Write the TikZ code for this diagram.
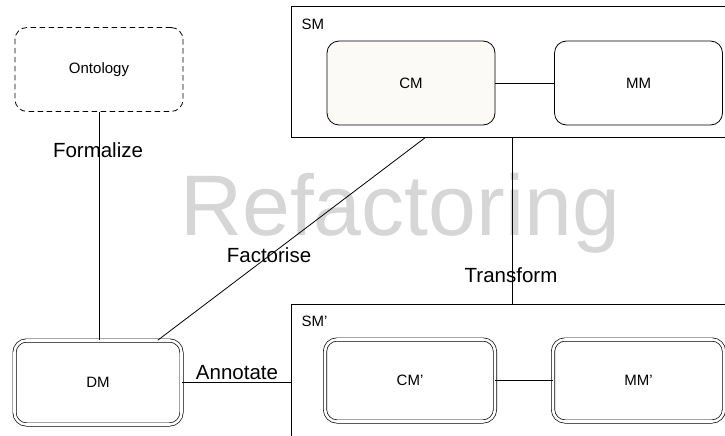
\documentclass[tikz,border=0pt]{standalone}
\usepackage{fontspec}
\setmainfont{Liberation Sans}
\begin{document}
\begin{tikzpicture}[x=1pt,y=-1pt,
  box/.style={draw=black,line width=0.8pt,rounded corners=12pt,minimum width=168pt,minimum height=84pt,inner sep=0pt,font=\fontsize{15}{18}\selectfont},
  dbox/.style={box,double=white,double distance=2.6pt,line width=0.7pt},
  dashbox/.style={box,dash pattern=on 5.5pt off 3.5pt},
  group/.style={draw=black,line width=0.8pt},
  conn/.style={draw=black,line width=0.8pt},
  lbl/.style={font=\fontsize{20.5}{24}\selectfont,anchor=base,inner sep=0pt},
  glbl/.style={font=\fontsize{15}{18}\selectfont,anchor=base west,inner sep=0pt}
]
\useasboundingbox (0,0) rectangle (725,436);
\clip (0,0) rectangle (725,436);
% big title
\node[font=\fontsize{86}{90}\selectfont,text=black!16,anchor=base,inner sep=0pt] (title) at (400,235) {Refactoring};
% groups
\node[group,minimum width=480pt,minimum height=131pt,anchor=north west,inner sep=0pt] (sm) at (291,6) {};
\node[group,minimum width=480pt,minimum height=160pt,anchor=north west,inner sep=0pt] (smp) at (291,304) {};
\node[glbl] (smlbl) at (301.5,30) {SM};
\node[glbl] (smplbl) at (301.5,326) {SM’};
% boxes
\node[dashbox] (onto) at (99,69.5) {Ontology};
\node[box,fill={rgb,255:red,252;green,250;blue,247}] (cm) at (411,83) {CM};
\node[box] (mm) at (638.5,83) {MM};
\node[dbox,minimum width=167pt,minimum height=84pt] (dm) at (98,382.5) {DM};
\node[dbox,minimum width=170pt,minimum height=82pt] (cmp) at (410,380.5) {CM’};
\node[dbox,minimum width=171pt,minimum height=82pt] (mmp) at (638.5,380.5) {MM’};
% connectors
\draw[conn] (cm) -- (mm);
\draw[conn] (cmp) -- (mmp);
\draw[conn] (onto.south) -- (onto.south |- dm.north);
\draw[conn] ([xshift=134pt]sm.south west) -- ([xshift=-24pt]dm.north east);
\draw[conn] ([xshift=221pt]sm.south west) -- ([xshift=221pt]smp.north west);
\draw[conn] (dm.east) -- (dm.east -| smp.west);
% labels
\node[lbl] (lformalize) at (98,157) {Formalize};
\node[lbl] (lfactorise) at (269,262) {Factorise};
\node[lbl] (ltransform) at (511,282) {Transform};
\node[lbl] (lannotate) at (237,379) {Annotate};
\end{tikzpicture}
\end{document}
